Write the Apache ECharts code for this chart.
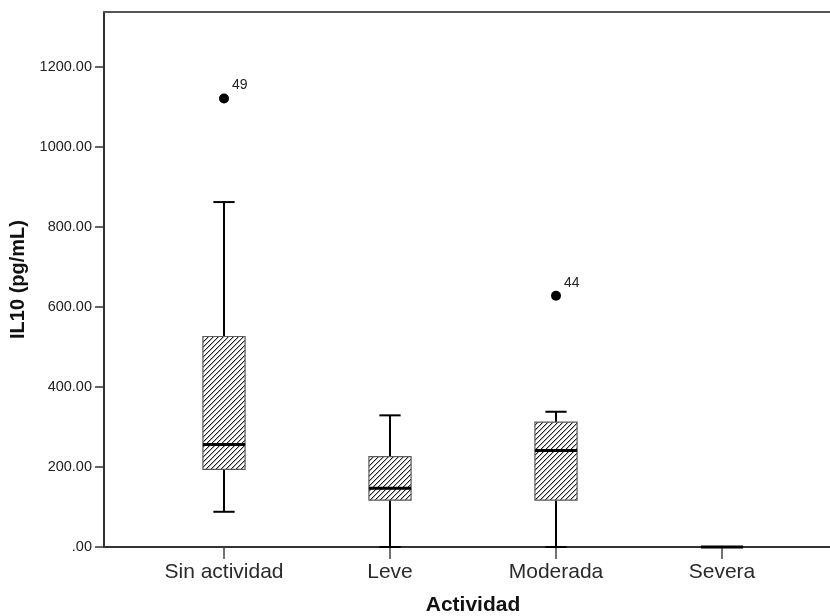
<!DOCTYPE html>
<html>
<head>
<meta charset="utf-8">
<script src="https://cdn.jsdelivr.net/npm/echarts@6/dist/echarts.min.js"></script>
<style>html,body{margin:0;padding:0;background:#fff}#c{width:830px;height:616px}</style>
</head>
<body>
<div id="c"></div>
<script>
const categories = ['Sin actividad', 'Leve', 'Moderada', 'Severa'];
const whiskerLow = [88, 0, 0, 0];
const q1 = [194, 117, 117, 0];
const median = [256, 147, 241, 0];
const q3 = [526, 226, 312, 0];
const whiskerHigh = [862, 329, 338, 0];
const outlierCategory = ['Sin actividad', 'Moderada'];
const outlierValue = [1121, 628];
const outlierLabel = ['49', '44'];
const yTicks = [0, 200, 400, 600, 800, 1000, 1200];
const yMax = 1337;

const FONT = 'Arial, "Liberation Sans", sans-serif';

// hatch pattern (pixel diagonal "/")
const tile = document.createElement('canvas');
const s = 5;
tile.width = s; tile.height = s;
const tctx = tile.getContext('2d');
tctx.fillStyle = '#fff';
tctx.fillRect(0, 0, s, s);
for (let k = 0; k < s; k++) {
  tctx.fillStyle = '#222';
  tctx.fillRect(k, s - 1 - k, 1, 1);
  tctx.fillStyle = '#b0b0b0';
  tctx.fillRect((k + 1) % s, s - 1 - k, 1, 1);
}

const boxData = categories.map((c, i) => [i, whiskerLow[i], q1[i], median[i], q3[i], whiskerHigh[i]]);
const outlierData = outlierCategory.map((c, k) => ({
  value: [categories.indexOf(c), outlierValue[k]],
  label: { formatter: outlierLabel[k] }
}));

function renderBox(params, api) {
  const i = api.value(0);
  const band = api.size([1, 0])[0];
  const half = band * 0.127;
  const capHalf = band * 0.064;
  const pLow = api.coord([i, api.value(1)]);
  const pQ1 = api.coord([i, api.value(2)]);
  const pMed = api.coord([i, api.value(3)]);
  const pQ3 = api.coord([i, api.value(4)]);
  const pHigh = api.coord([i, api.value(5)]);
  const x = pMed[0];
  const black = { stroke: '#000', lineWidth: 2, fill: null };
  const children = [
    { type: 'line', shape: { x1: x, y1: pQ3[1], x2: x, y2: pHigh[1] }, style: black },
    { type: 'line', shape: { x1: x - capHalf, y1: pHigh[1], x2: x + capHalf, y2: pHigh[1] }, style: black },
    { type: 'line', shape: { x1: x, y1: pQ1[1], x2: x, y2: pLow[1] }, style: black },
    { type: 'line', shape: { x1: x - capHalf, y1: pLow[1], x2: x + capHalf, y2: pLow[1] }, style: black },
    { type: 'rect', shape: { x: x - half, y: pQ3[1], width: half * 2, height: pQ1[1] - pQ3[1] },
      style: { fill: { image: tile, repeat: 'repeat' }, stroke: '#5a5a5a', lineWidth: 1.2 } },
    { type: 'line', shape: { x1: x - half, y1: pMed[1], x2: x + half, y2: pMed[1] }, style: { stroke: '#000', lineWidth: 3 } }
  ];
  return { type: 'group', children: children };
}

const chart = echarts.init(document.getElementById('c'), null, { renderer: 'canvas' });
chart.setOption({
  backgroundColor: '#fff',
  animation: false,
  grid: [
    { left: 104, right: 0, top: 12, bottom: 69, containLabel: false, outerBoundsMode: 'none' },
    { left: 141, right: 25, top: 12, bottom: 69, containLabel: false, outerBoundsMode: 'none' }
  ],
  xAxis: [
    { type: 'value', gridIndex: 0, min: 0, max: 1, position: 'bottom',
      axisLine: { show: true, lineStyle: { color: '#333', width: 2 } },
      axisTick: { show: false }, axisLabel: { show: false }, splitLine: { show: false } },
    { type: 'value', gridIndex: 0, min: 0, max: 1, position: 'top',
      axisLine: { show: true, lineStyle: { color: '#555', width: 2 } },
      axisTick: { show: false }, axisLabel: { show: false }, splitLine: { show: false } },
    { type: 'category', gridIndex: 1, data: categories, boundaryGap: true,
      axisLine: { show: false },
      axisTick: { show: true, alignWithLabel: true, length: 12, lineStyle: { color: '#444', width: 1.5 } },
      axisLabel: { color: '#2a2a2a', fontSize: 21, fontFamily: FONT, margin: 15 },
      name: 'Actividad', nameLocation: 'middle', nameGap: 48,
      nameTextStyle: { color: '#111', fontSize: 21, fontWeight: 'bold', fontFamily: FONT } }
  ],
  yAxis: [
    { type: 'value', gridIndex: 0, min: 0, max: yMax, interval: 200,
      axisLine: { show: true, lineStyle: { color: '#333', width: 2 } },
      axisTick: { show: true, length: 9, customValues: yTicks, lineStyle: { color: '#333', width: 1.5 } },
      axisLabel: { customValues: yTicks, color: '#222', fontSize: 14.5, fontFamily: FONT, margin: 12,
        formatter: v => v === 0 ? '.00' : v.toFixed(2) },
      splitLine: { show: false },
      name: 'IL10 (pg/mL)', nameLocation: 'middle', nameGap: 74,
      nameTextStyle: { color: '#111', fontSize: 20, fontWeight: 'bold', fontFamily: FONT } },
    { type: 'value', gridIndex: 1, min: 0, max: yMax, interval: 200, show: false }
  ],
  series: [
    { type: 'custom', xAxisIndex: 2, yAxisIndex: 1, data: boxData,
      encode: { x: 0, y: [1, 2, 3, 4, 5] }, renderItem: renderBox, z: 3 },
    { type: 'scatter', xAxisIndex: 2, yAxisIndex: 1, data: outlierData,
      symbol: 'circle', symbolSize: 10, itemStyle: { color: '#000', opacity: 1 }, z: 4,
      label: { show: true, position: 'right', distance: 3, offset: [0, -13], color: '#222', fontSize: 14, fontFamily: FONT } }
  ]
});
</script>
</body>
</html>
